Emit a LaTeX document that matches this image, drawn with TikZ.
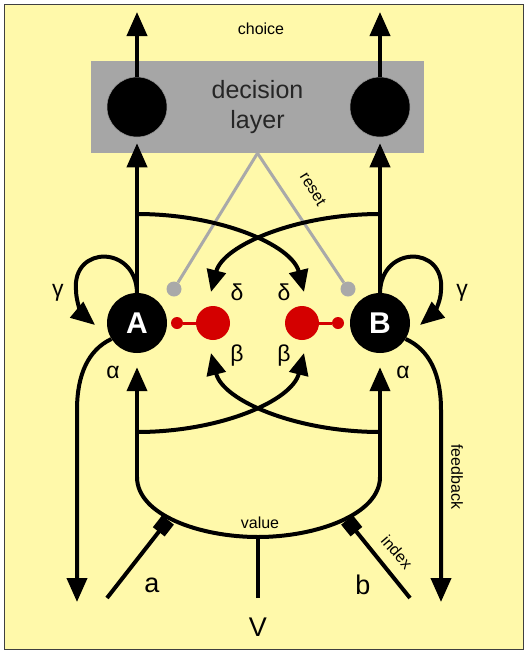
\documentclass[tikz,border=0pt]{standalone}
\usepackage{fontspec}
\setmainfont{Liberation Sans}
\usetikzlibrary{arrows.meta}
\definecolor{paper}{HTML}{FFF9AA}
\definecolor{boxgray}{HTML}{A6A6A6}
\definecolor{resetgray}{HTML}{A9A9A9}
\definecolor{inhred}{HTML}{D40000}
\tikzset{>={Triangle[length=24pt,width=20pt]}}

\begin{document}
\begin{tikzpicture}[x=1pt,y=-1pt,
    wire/.style={line width=4pt,line join=round},
    unit/.style={circle,fill=black,minimum size=60pt,inner sep=0pt},
    inhib/.style={circle,fill=inhred,inner sep=0pt},
    resetdot/.style={circle,fill=resetgray,minimum size=15pt,inner sep=0pt},
    resetline/.style={draw=resetgray,line width=3pt},
    lab/.style={font=\fontsize{23}{25}\selectfont},
    biglab/.style={font=\fontsize{27}{29}\selectfont},
    small/.style={font=\fontsize{16}{18}\selectfont}]
  \useasboundingbox (0,0) rectangle (529,654);
  \draw[fill=paper,draw=black!75,line width=1pt] (4,4) rectangle (523,649);

  % decision layer
  \node[fill=boxgray,minimum width=333pt,minimum height=92pt,inner sep=0pt,
    align=center,font=\fontsize{25}{30}\selectfont,text=black!85] (dec) at (257.5,107) {decision\\layer};
  \node[unit,draw=black!40,line width=0.5pt] (dA) at (137,107) {};
  \node[unit,draw=black!40,line width=0.5pt] (dB) at (380,107) {};
  \coordinate (cA) at (137,12);
  \coordinate (cB) at (380,12);
  \node[small] (choice) at (261,29) {choice};

  % accumulators
  \node[unit,text=white,font=\fontsize{30}{30}\selectfont\bfseries] (A) at (137,323) {A};
  \node[unit,text=white,font=\fontsize{30}{30}\selectfont\bfseries] (B) at (380,323) {B};
  \node[inhib,minimum size=34pt] (iA) at (213,323) {};
  \node[inhib,minimum size=12pt] (sA) at (177,323) {};
  \node[inhib,minimum size=34pt] (iB) at (302,323) {};
  \node[inhib,minimum size=12pt] (sB) at (338,323) {};
  \node[resetdot] (rA) at (174,289) {};
  \node[resetdot] (rB) at (348,289) {};

  \coordinate (jA) at (137,214);
  \coordinate (jB) at (380,214);
  \coordinate (kA) at (137,432);
  \coordinate (kB) at (380,432);
  \coordinate (tdA) at (304,292);
  \coordinate (tdB) at (211,292);
  \coordinate (tbA) at (304,353);
  \coordinate (tbB) at (211,353);
  \coordinate (gA) at (95,325);
  \coordinate (gB) at (420,325);
  \coordinate (fbA) at (77,602);
  \coordinate (fbB) at (441,602);
  \coordinate (uA) at (137,477);
  \coordinate (uB) at (380,477);
  \coordinate (val) at (258,537);
  \coordinate (ta) at (168,520);
  \coordinate (tb) at (347,520);
  \coordinate (ina) at (107,598);
  \coordinate (inb) at (410,598);
  \coordinate (inV) at (258,598);

  % reset
  \draw[resetline] (rA) -- (dec.south);
  \draw[resetline] (rB) -- (dec.south);
  \node[small,rotate=-58] at (313,189) {reset};

  % inhibition
  \draw[inhred,line width=3pt] (sA) -- (iA);
  \draw[inhred,line width=3pt] (sB) -- (iB);

  % choice
  \draw[wire,->] (dA) -- (cA);
  \draw[wire,->] (dB) -- (cB);
  \draw[wire,->,shorten >=6pt] (A) -- (dA);
  \draw[wire,->,shorten >=6pt] (B) -- (dB);

  % delta
  \draw[wire,-{Triangle[length=22pt,width=19pt]}] (jA) .. controls (220,214) and (292,245) .. (tdA);
  \draw[wire,-{Triangle[length=22pt,width=19pt]}] (jB) .. controls (297,214) and (223,245) .. (tdB);
  % beta
  \draw[wire,-{Triangle[length=22pt,width=19pt]}] (kA) .. controls (220,432) and (292,401) .. (tbA);
  \draw[wire,-{Triangle[length=22pt,width=19pt]}] (kB) .. controls (297,432) and (223,401) .. (tbB);

  % gamma
  \draw[wire,->] (A.north) .. controls (136,245) and (72,245) .. (76,290) .. controls (76,303) and (83,315) .. (gA);
  \draw[wire,->] (B.north) .. controls (381,245) and (445,245) .. (441,290) .. controls (441,303) and (432,315) .. (gB);

  % feedback
  \draw[wire,->] (A.212) .. controls (88,350) and (77,375) .. (77,410) -- (fbA);
  \draw[wire,->] (B.-32) .. controls (430,350) and (441,375) .. (441,410) -- (fbB);
  \node[small,rotate=-90] at (457,477) {feedback};

  % value
  \draw[wire] (uA) .. controls (137,515) and (200,537) .. (val) .. controls (315,537) and (380,515) .. (uB);
  \draw[wire,->,shorten >=14pt] (uA) -- (A);
  \draw[wire,->,shorten >=14pt] (uB) -- (B);
  \node[small] at (260,523) {value};

  % inputs
  \draw[wire,-{Square[length=15pt,width=15pt]}] (ina) -- (ta);
  \draw[wire,-{Square[length=15pt,width=15pt]}] (inb) -- (tb);
  \draw[wire] (inV) -- (val);
  \node[small,rotate=-49] at (397,552) {index};

  % labels
  \node[lab] at (58,293) {γ};
  \node[lab] at (462,293) {γ};
  \node[lab] at (237,292) {δ};
  \node[lab] at (284,292) {δ};
  \node[lab] at (237,356) {β};
  \node[lab] at (284,356) {β};
  \node[lab] at (113,372) {α};
  \node[lab] at (403,372) {α};
  \node[biglab] at (152,585) {a};
  \node[biglab] at (363,585) {b};
  \node[biglab] at (258,627) {V};
\end{tikzpicture}
\end{document}
